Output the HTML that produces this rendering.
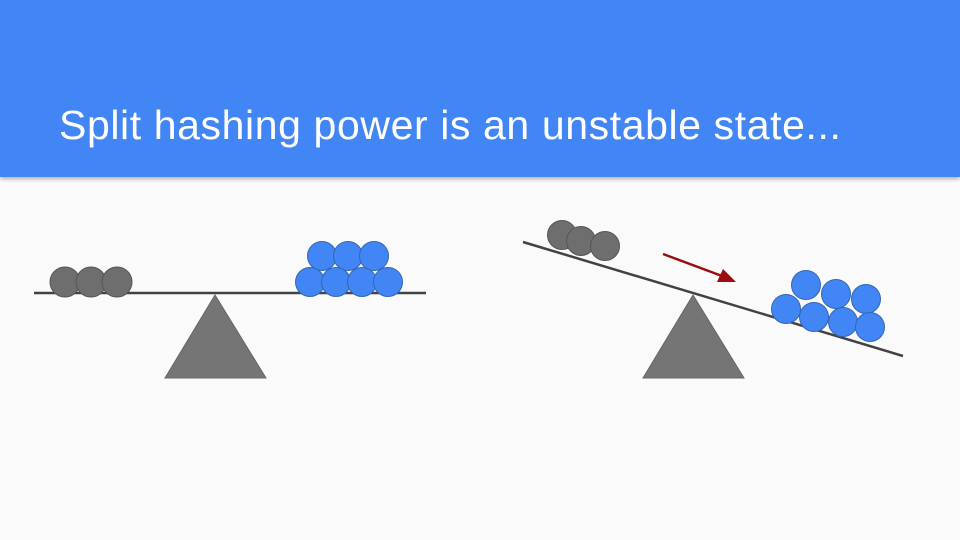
<!DOCTYPE html>
<html><head><style>
body{margin:0;width:960px;height:540px;background:#fafafa;overflow:hidden;font-family:"Liberation Sans",sans-serif;}
.hd{position:absolute;left:0;top:0;width:960px;height:177px;background:#4285f4;box-shadow:0 2px 4px rgba(0,0,0,0.3);}
.t{position:absolute;left:59px;top:102px;color:#fff;font-size:41px;letter-spacing:0.6px;white-space:nowrap;}
svg{position:absolute;left:0;top:0;}
</style></head><body>
<div class="hd"></div>
<div class="t">Split hashing power is an unstable state...</div>
<svg width="960" height="540">
<g stroke="#555" stroke-width="1">
<polygon points="215,295 165,378 266,378" fill="#757575" stroke="#666"/>
<polygon points="693,295 643,378 744,378" fill="#757575" stroke="#666"/>
</g>
<line x1="34" y1="293" x2="426" y2="293" stroke="#424242" stroke-width="2.5"/>
<line x1="523" y1="242" x2="903" y2="356" stroke="#424242" stroke-width="2.5"/>
<g fill="#6e6e6e" stroke="#555" stroke-width="1">
<circle cx="65" cy="282" r="15"/><circle cx="91" cy="282" r="15"/><circle cx="117" cy="282" r="15"/>
<circle cx="562" cy="235" r="14.5"/><circle cx="581" cy="241" r="14.5"/><circle cx="605" cy="246" r="14.5"/>
</g>
<g fill="#4285f4" stroke="#3367b0" stroke-width="1">
<circle cx="322" cy="256" r="14.5"/><circle cx="348" cy="256" r="14.5"/><circle cx="374" cy="256" r="14.5"/>
<circle cx="310" cy="282" r="14.5"/><circle cx="336" cy="282" r="14.5"/><circle cx="362" cy="282" r="14.5"/><circle cx="388" cy="282" r="14.5"/>
<circle cx="806" cy="285" r="14.5"/><circle cx="836" cy="294" r="14.5"/><circle cx="866" cy="299" r="14.5"/>
<circle cx="786" cy="309" r="14.5"/><circle cx="814" cy="317" r="14.5"/><circle cx="843" cy="322" r="14.5"/><circle cx="870" cy="327" r="14.5"/>
</g>
<line x1="663" y1="254" x2="722" y2="276" stroke="#9b0d0d" stroke-width="2.5"/>
<polygon points="736,282 717,282 723,269" fill="#9b0d0d"/>
</svg>
</body></html>
